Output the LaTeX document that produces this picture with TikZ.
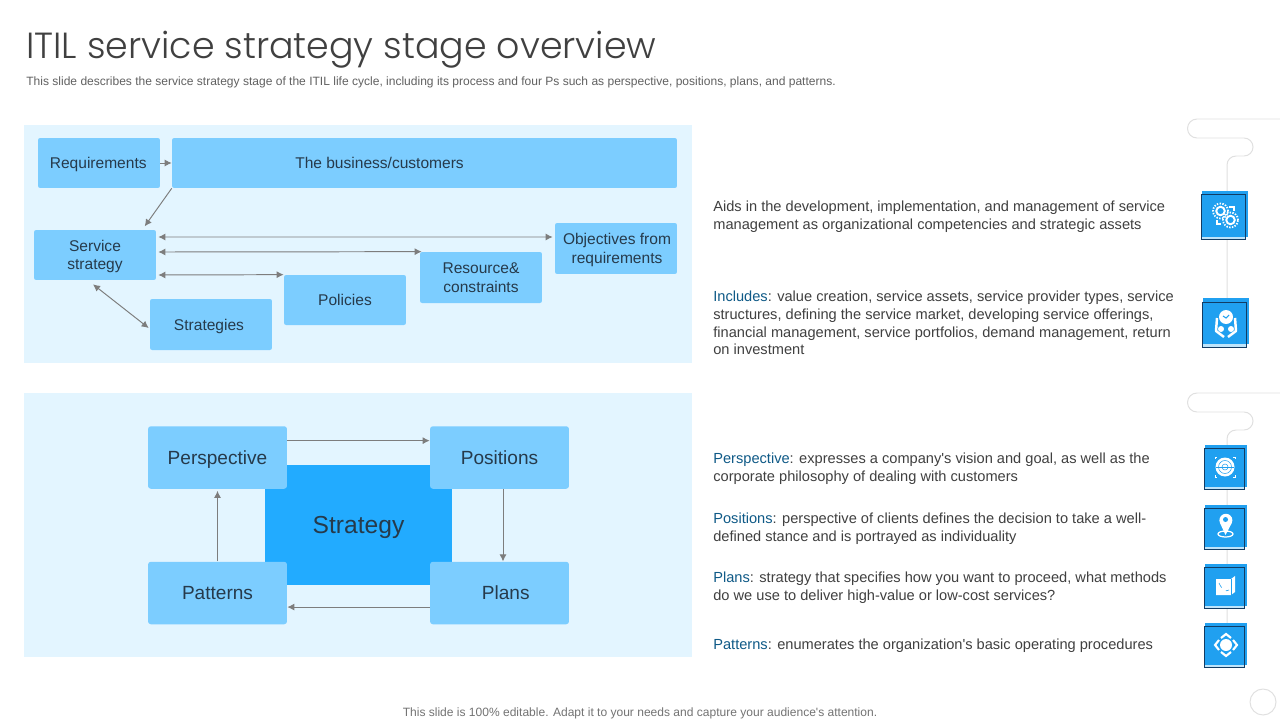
\documentclass[tikz,border=0pt]{standalone}
\usepackage{fontspec}
\setmainfont{Liberation Sans}
\newfontfamily\titlefont{Poppins Light}
\usetikzlibrary{arrows.meta,calc}
\definecolor{itPanel}{RGB}{227,245,255}
\definecolor{itBox}{RGB}{124,205,255}
\definecolor{itCore}{RGB}{34,171,255}
\definecolor{itIcon}{RGB}{32,160,240}
\definecolor{itStrip}{RGB}{190,228,250}
\definecolor{itEdge}{RGB}{18,60,100}
\definecolor{itText}{RGB}{38,58,75}
\definecolor{itBody}{RGB}{64,64,64}
\definecolor{itLink}{RGB}{15,90,135}
\definecolor{itFlow}{RGB}{125,125,125}
\definecolor{itRail}{RGB}{224,224,224}
\tikzset{
    x=0.02cm, y=-0.02cm,
    base/.style={font=\fontsize{8.85}{10.6}\selectfont, align=center, text=itText, inner sep=0pt, text depth=0pt},
    panel/.style={fill=itPanel, draw=none},
    stepbox/.style={base, fill=itBox, rounded corners=1.2pt, minimum width=2.44cm, minimum height=1cm},
    bigbox/.style={base, fill=itBox, rounded corners=1.6pt, minimum width=2.78cm, minimum height=1.25cm,
                   font=\fontsize{10.85}{12}\selectfont, text height=7.6pt},
    core/.style={base, fill=itCore, minimum width=3.74cm, minimum height=2.4cm, font=\fontsize{14}{16}\selectfont},
    flow/.style={-{Latex[length=4pt,width=4pt]}, line width=0.55pt, color=itFlow},
    both/.style={{Latex[length=4pt,width=4pt]}-{Latex[length=4pt,width=4pt]}, line width=0.55pt, color=itFlow},
    body/.style={font=\fontsize{8.32}{10}\selectfont, align=left, text=itBody, anchor=west, inner sep=0pt},
    rail/.style={draw=itRail, line width=0.55pt},
    iconbg/.style={fill=itIcon, draw=none},
    iconline/.style={draw=itEdge, line width=0.45pt},
    glyph/.style={fill=white, draw=none}
}
\newcommand{\iconbox}[4]{% blue tile and its offset outline
  \fill[itStrip] (#1-1,#2+#4) rectangle ++(#3-2,#3-1);
  \fill[iconbg] (#1,#2) rectangle ++(#3,#3);
  \draw[iconline] (#1-1,#2+#4) rectangle ++(#3-2,#3-1);
}
\begin{document}
\begin{tikzpicture}
  \useasboundingbox (0,0) rectangle (1280,720);
  \fill[white] (0,0) rectangle (1280,720);

  % Heading
  \node[anchor=west, inner sep=0pt, text=black!75, font=\titlefont\fontsize{20.7}{24}\selectfont] (title) at (26,50)
    {ITIL service strategy stage overview};
  \node[anchor=west, inner sep=0pt, text=black!62, font=\fontsize{6.85}{8}\selectfont] (subtitle) at (26,82)
    {This slide describes the service strategy stage of the ITIL life cycle, including its process and four Ps such as perspective, positions, plans, and patterns.};

  % Panels
  \fill[panel] (24,125) rectangle (692,363);
  \fill[panel] (24,393) rectangle (692,657);

  % Top panel boxes
  \node[stepbox] (req) at (99,163) {\hspace*{-0.03cm}Requirements};
  \node[stepbox, minimum width=10.1cm] (biz) at (424.5,163) {\hspace*{-1.8cm}The business/customers};
  \node[stepbox] (svc) at (95,255) {Service\\strategy};
  \node[stepbox, minimum height=1.02cm] (obj) at (616,248.5) {\hspace*{0.04cm}Objectives from\\\hspace*{0.04cm}requirements};
  \node[stepbox, minimum height=1.02cm] (res) at (481,277.5) {Resource\&\\constraints};
  \node[stepbox] (pol) at (345,300) {Policies};
  \node[stepbox, minimum height=1.02cm] (strat) at (211,324.5) {\hspace*{-0.08cm}Strategies};

  % Top panel arrows
  \draw[flow] (req) -- (biz);
  \draw[flow] (biz.south west) -- ([xshift=-0.54cm,yshift=-0.76cm]biz.south west);
  \draw[both] ([xshift=0.04cm,yshift=0.36cm]svc.east) -- ([xshift=-0.04cm,yshift=0.23cm]obj.west);
  \draw[both] ([xshift=0.04cm,yshift=0.06cm]svc.east) -- ([xshift=0.04cm]res.north west);
  \draw[both] ([xshift=0.04cm,yshift=-0.4cm]svc.east) -- (pol.north west);
  \draw[both] ([xshift=-0.04cm,yshift=-0.08cm]svc.south) -- ([xshift=-0.02cm,yshift=-0.07cm]strat.west);

  % Bottom panel boxes
  \node[core] (core) at (358.5,525) {Strategy};
  \node[bigbox] (persp) at (217.5,457.5) {Perspective};
  \node[bigbox] (pos) at (499.5,457.5) {Positions};
  \node[bigbox] (pat) at (217.5,593) {Patterns};
  \node[bigbox] (plan) at (499.5,593) {\hspace*{0.25cm}Plans};

  % Bottom panel arrows
  \draw[flow] ([yshift=9.6pt]persp.east) -- ([yshift=9.6pt]pos.west);
  \draw[flow] ([xshift=0.07cm]pos.south) -- ([xshift=0.07cm]plan.north);
  \draw[flow] ([yshift=-8pt]plan.west) -- ([yshift=-8pt]pat.east);
  \draw[flow] (pat.north) -- ([yshift=-1pt]persp.south);

  % Right hand text
  \node[body] (t1) at (713,216.5) {Aids in the development, implementation, and management of service\\management as organizational competencies and strategic assets};
  \node[body] (t2) at (713,323) {\textcolor{itLink}{Includes}: value creation, service assets, service provider types, service\\structures, defining the service market, developing service offerings,\\financial management, service portfolios, demand management, return\\on investment};
  \node[body] (t3) at (713,468.5) {\textcolor{itLink}{Perspective}: expresses a company\textquotesingle s vision and goal, as well as the\\corporate philosophy of dealing with customers};
  \node[body] (t4) at (713,528.5) {\textcolor{itLink}{Positions}: perspective of clients defines the decision to take a well-\\defined stance and is portrayed as individuality};
  \node[body] (t5) at (713,587.5) {\textcolor{itLink}{Plans}: strategy that specifies how you want to proceed, what methods\\do we use to deliver high-value or low-cost services?};
  \node[body] (t6) at (713,646) {\textcolor{itLink}{Patterns}: enumerates the organization\textquotesingle s basic operating procedures};

  % Rails
  \draw[rail] (1280,119) -- (1197,119) arc[start angle=90, end angle=270, radius=0.19cm]
    -- (1244,138) arc[start angle=90, end angle=-90, radius=0.18cm]
    -- (1236,156) arc[start angle=90, end angle=180, radius=0.18cm] -- (1227,300);
  \draw[rail] (1280,393) -- (1197,393) arc[start angle=90, end angle=270, radius=0.19cm]
    -- (1244,412) arc[start angle=90, end angle=-90, radius=0.18cm]
    -- (1236,430) arc[start angle=90, end angle=180, radius=0.18cm] -- (1227,625);

  % Icon tiles
  \iconbox{1202}{191}{46}{3}
  \iconbox{1203}{298}{46}{4}
  \iconbox{1205}{445}{42}{3}
  \iconbox{1205}{505}{42}{3}
  \iconbox{1205}{564}{42}{3}
  \iconbox{1205}{623}{42}{3}

  % Gears
  \draw[white, line width=1.1pt] (1220.5,211) circle[radius=0.085cm];
  \draw[white, line width=1pt, dash pattern=on 0.8pt off 0.8pt] (1220.5,211) circle[radius=0.15cm];
  \draw[white, line width=1.1pt] (1230.5,220) circle[radius=0.085cm];
  \draw[white, line width=1pt, dash pattern=on 0.8pt off 0.8pt] (1230.5,220) circle[radius=0.15cm];
  \draw[white, line width=0.6pt] (1229,207) -- (1234,207) -- (1234,211);
  \draw[white, line width=0.6pt] (1217,220) -- (1217,224) -- (1221,224);

  % Hands and shield
  \fill[glyph] (1226,317) circle[radius=0.14cm];
  \draw[white, line width=1.4pt, line join=round] (1217,318) -- (1216,331) -- (1224,337);
  \draw[white, line width=1.4pt, line join=round] (1235,318) -- (1236,331) -- (1228,337);
  \fill[glyph] (1221,329) circle[radius=0.06cm];
  \fill[glyph] (1231,329) circle[radius=0.06cm];
  \draw[itIcon, line width=0.6pt] (1223,316) -- (1226,318) -- (1229,315);

  % Globe with corners
  \fill[glyph] (1225,467) circle[radius=0.19cm];
  \draw[itIcon, line width=0.3pt] (1225,467) circle[radius=0.13cm];
  \draw[itIcon, line width=0.3pt] (1225,467) circle[radius=0.06cm];
  \draw[itIcon, line width=0.3pt] (1216,467) -- (1234,467);
  \draw[white, line width=0.5pt] (1215,459) -- (1215,457) -- (1217,457);
  \draw[white, line width=0.5pt] (1235,459) -- (1235,457) -- (1233,457);
  \draw[white, line width=0.5pt] (1215,475) -- (1215,477) -- (1217,477);
  \draw[white, line width=0.5pt] (1235,475) -- (1235,477) -- (1233,477);

  % Map pin
  \draw[white, line width=0.7pt] (1225.5,534) ellipse[x radius=0.15cm, y radius=0.06cm];
  \fill[glyph] (1225.5,535) -- (1220,523) arc[start angle=205, end angle=-25, radius=0.13cm] -- cycle;
  \fill[itIcon] (1225.5,519.5) circle[radius=0.05cm];

  % Folded map
  \fill[glyph] (1216,579) -- (1231,579) -- (1235,576) -- (1235,592) -- (1231,595) -- (1216,595) -- cycle;
  \draw[itIcon, line width=0.35pt, dashed] (1219,583) .. controls (1222,590) and (1226,592) .. (1229,590);
  \draw[itIcon, line width=0.35pt] (1231,579) -- (1231,595);

  % Move arrows
  \fill[glyph] (1226,645) circle[radius=0.12cm];
  \draw[white, line width=1.2pt] (1221,638) -- (1226,634) -- (1231,638);
  \draw[white, line width=1.2pt] (1221,652) -- (1226,656) -- (1231,652);
  \draw[white, line width=1.2pt] (1219,640) -- (1215,645) -- (1219,650);
  \draw[white, line width=1.2pt] (1233,640) -- (1237,645) -- (1233,650);

  % Footer
  \draw[rail] (1263,702) circle[radius=0.26cm];
  \node[inner sep=0pt, text=black!55, font=\fontsize{6.85}{8}\selectfont] (footer) at (640,713)
    {This slide is 100\% editable. Adapt it to your needs and capture your audience\textquotesingle s attention.};
\end{tikzpicture}
\end{document}
